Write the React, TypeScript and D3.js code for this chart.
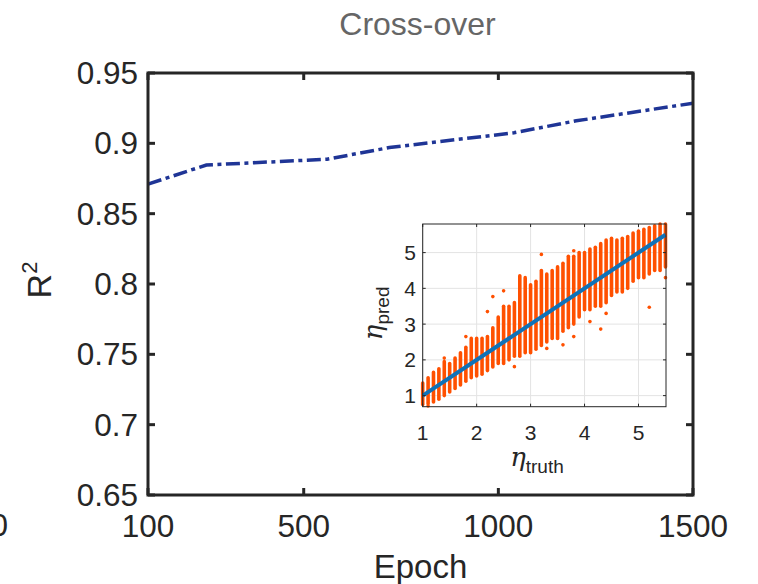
import React from "react";
import * as d3 from "d3";

const epochs = [100, 250, 560, 720, 1040, 1200, 1500];
const r2Values = [0.871, 0.8846, 0.8887, 0.897, 0.9075, 0.916, 0.9285];
const xTicks = [100, 500, 1000, 1500];
const yTicks = [0.65, 0.7, 0.75, 0.8, 0.85, 0.9, 0.95];
const yTickLabels = ["0.65", "0.7", "0.75", "0.8", "0.85", "0.9", "0.95"];

const etaTruth = [1.0, 1.1, 1.2, 1.3, 1.4, 1.5, 1.6, 1.7, 1.8, 1.9, 2.0, 2.1, 2.2, 2.3, 2.4, 2.5, 2.6, 2.7, 2.8, 2.9, 3.0, 3.1, 3.2, 3.3, 3.4, 3.5, 3.6, 3.7, 3.8, 3.9, 4.0, 4.1, 4.2, 4.3, 4.4, 4.5, 4.6, 4.7, 4.8, 4.9, 5.0, 5.1, 5.2, 5.3, 5.4, 5.5];
const predLow = [0.75, 0.77, 0.82, 0.9, 1.0, 1.1, 1.2, 1.3, 1.4, 1.5, 1.55, 1.6, 1.7, 1.8, 1.9, 1.9, 2.0, 2.1, 2.1, 2.2, 2.2, 2.3, 2.4, 2.5, 2.6, 2.6, 2.8, 2.9, 3.0, 3.2, 3.4, 3.4, 3.5, 3.5, 3.6, 3.8, 3.9, 3.9, 4.0, 4.2, 4.3, 4.3, 4.4, 4.5, 4.5, 4.6];
const predHigh = [1.35, 1.5, 1.65, 1.75, 1.95, 1.9, 2.05, 2.2, 2.35, 2.6, 2.6, 2.6, 2.65, 2.9, 3.2, 3.5, 3.5, 3.6, 4.35, 4.3, 4.1, 4.2, 4.5, 4.4, 4.5, 4.6, 4.7, 4.9, 4.9, 5.0, 5.0, 5.1, 5.15, 5.25, 5.35, 5.4, 5.35, 5.4, 5.45, 5.55, 5.6, 5.65, 5.7, 5.75, 5.8, 5.8];
const outlierTruth = [1.1, 1.4, 1.8, 2.2, 2.3, 2.5, 2.7, 3.2, 3.3, 3.6, 3.8, 4.1, 4.3, 4.4, 5.2, 5.5, 3.8];
const outlierPred = [0.71, 2.05, 2.65, 3.35, 3.77, 3.93, 1.81, 4.95, 2.32, 2.42, 2.65, 3.07, 2.86, 3.3, 3.47, 4.3, 5.05];
const insetTicks = [1, 2, 3, 4, 5];

const AXIS = "#262626";
const FONT = "'Liberation Sans', Arial, Helvetica, sans-serif";
const SERIF = "'DejaVu Serif', 'Liberation Serif', serif";

export default function App() {
  const x = d3.scaleLinear().domain([100, 1500]).range([148, 693]);
  const y = d3.scaleLinear().domain([0.65, 0.95]).range([495, 73]);
  const line = d3
    .line<number>()
    .x((_, i) => x(epochs[i]))
    .y((d) => y(d));

  const ix = d3.scaleLinear().domain([1, 5.51]).range([422.7, 666]);
  const iy = d3.scaleLinear().domain([0.69, 5.8]).range([406.7, 224]);
  const idLine = d3
    .line<number>()
    .x((d) => ix(d))
    .y((d) => iy(d));

  const [x0, x1] = x.range();
  const [y0, y1] = y.range();
  const [ix0, ix1] = ix.range();
  const [iy0, iy1] = iy.range();
  const tl = 7;

  return (
    <svg
      width={758}
      height={584}
      style={{ position: "absolute", left: 0, top: 0, background: "#fff" }}
      fontFamily={FONT}
    >
      <rect x={0} y={0} width={758} height={584} fill="#fff" />
      {/* title */}
      <text x={(x0 + x1) / 2 - 3} y={35} fontSize={32} fill="#666" textAnchor="middle">
        Cross-over
      </text>

      {/* main line */}
      <path
        d={line(r2Values) || ""}
        fill="none"
        stroke="#1f3596"
        strokeWidth={3.5}
        strokeDasharray="14 4.5 4 4.5"
      />

      {/* box */}
      <rect
        x={x0}
        y={y1}
        width={x1 - x0}
        height={y0 - y1}
        fill="none"
        stroke={AXIS}
        strokeWidth={3}
      />
      {xTicks.map((t) => (
        <g key={"xt" + t}>
          <line x1={x(t)} x2={x(t)} y1={y0} y2={y0 - tl} stroke={AXIS} strokeWidth={3} />
          <line x1={x(t)} x2={x(t)} y1={y1} y2={y1 + tl} stroke={AXIS} strokeWidth={3} />
          <text x={x(t)} y={537} fontSize={31.5} fill={AXIS} textAnchor="middle">
            {t}
          </text>
        </g>
      ))}
      {yTicks.map((t, i) => (
        <g key={"yt" + t}>
          <line x1={x0} x2={x0 + tl} y1={y(t)} y2={y(t)} stroke={AXIS} strokeWidth={3} />
          <line x1={x1} x2={x1 - tl} y1={y(t)} y2={y(t)} stroke={AXIS} strokeWidth={3} />
          <text x={138} y={y(t) + 11} fontSize={31.5} fill={AXIS} textAnchor="end">
            {yTickLabels[i]}
          </text>
        </g>
      ))}
      <text x={8} y={536} fontSize={31.5} fill={AXIS} textAnchor="end">
        0
      </text>
      <text x={(x0 + x1) / 2} y={578} fontSize={33} fill={AXIS} textAnchor="middle">
        Epoch
      </text>
      <text
        transform={`translate(51, ${(y0 + y1) / 2 - 4}) rotate(-90)`}
        fontSize={34}
        fill={AXIS}
        textAnchor="middle"
      >
        R<tspan fontSize={22} dy={-14}>2</tspan>
      </text>

      {/* inset */}
      <rect x={ix0} y={iy1} width={ix1 - ix0} height={iy0 - iy1} fill="#fff" />
      {insetTicks.map((t) => (
        <g key={"ig" + t}>
          <line x1={ix(t)} x2={ix(t)} y1={iy0} y2={iy1} stroke="#e3e3e3" strokeWidth={1} />
          <line x1={ix0} x2={ix1} y1={iy(t)} y2={iy(t)} stroke="#e3e3e3" strokeWidth={1} />
        </g>
      ))}
      {etaTruth.map((t, i) => (
        <line
          key={"col" + i}
          x1={ix(t)}
          x2={ix(t)}
          y1={iy(predLow[i])}
          y2={iy(predHigh[i])}
          stroke="#ff5000"
          strokeWidth={3.6}
          strokeLinecap="round"
        />
      ))}
      {outlierTruth.map((t, i) => (
        <circle key={"o" + i} cx={ix(t)} cy={iy(outlierPred[i])} r={1.8} fill="#ff5000" />
      ))}
      <path
        d={idLine([1, 5.5]) || ""}
        fill="none"
        stroke="#0f72b8"
        strokeWidth={4}
      />
      <rect
        x={ix0}
        y={iy1}
        width={ix1 - ix0}
        height={iy0 - iy1}
        fill="none"
        stroke={AXIS}
        strokeWidth={1}
      />
      {insetTicks.map((t) => (
        <g key={"it" + t}>
          <line x1={ix(t)} x2={ix(t)} y1={iy0} y2={iy0 - 3} stroke={AXIS} strokeWidth={1} />
          <line x1={ix(t)} x2={ix(t)} y1={iy1} y2={iy1 + 3} stroke={AXIS} strokeWidth={1} />
          <line x1={ix0} x2={ix0 + 3} y1={iy(t)} y2={iy(t)} stroke={AXIS} strokeWidth={1} />
          <line x1={ix1} x2={ix1 - 3} y1={iy(t)} y2={iy(t)} stroke={AXIS} strokeWidth={1} />
          <text x={ix(t)} y={440} fontSize={21} fill={AXIS} textAnchor="middle">
            {t}
          </text>
          <text x={416} y={iy(t) + 7.5} fontSize={21} fill={AXIS} textAnchor="end">
            {t}
          </text>
        </g>
      ))}
      <text x={537} y={466} fontSize={26} fill={AXIS} textAnchor="middle">
        <tspan fontFamily={SERIF} fontStyle="italic">
          η
        </tspan>
        <tspan fontSize={19} dy={7}>truth</tspan>
      </text>
      <text
        transform={`translate(382, ${(iy0 + iy1) / 2 - 2}) rotate(-90)`}
        fontSize={26}
        fill={AXIS}
        textAnchor="middle"
      >
        <tspan fontFamily={SERIF} fontStyle="italic">
          η
        </tspan>
        <tspan fontSize={19} dy={7}>pred</tspan>
      </text>
    </svg>
  );
}
